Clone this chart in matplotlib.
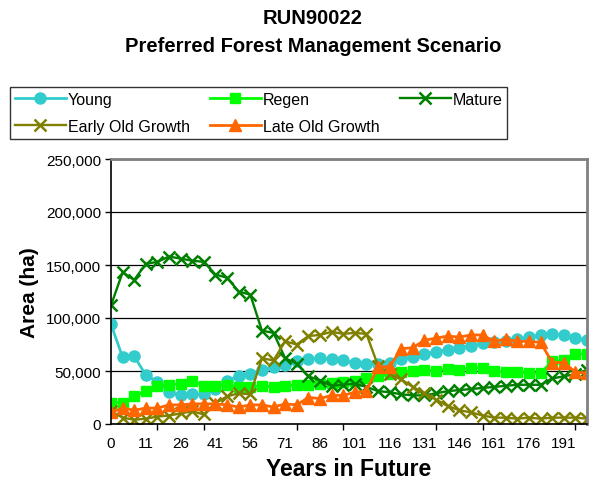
import matplotlib.pyplot as plt
from matplotlib.ticker import FuncFormatter

plt.rcParams['font.family'] = ['Liberation Sans', 'DejaVu Sans']

# categories (years in future)
years = [0, 1, 6, 11, 16, 21, 26, 31, 36, 41, 46, 51, 56, 61, 66, 71, 76, 81, 86, 91, 96,
         101, 106, 111, 116, 121, 126, 131, 136, 141, 146, 151, 156, 161, 166, 171, 176,
         181, 186, 191, 196, 201]

# area (ha)
young = [94000, 63000, 64000, 46000, 40000, 30000, 27000, 28000, 28000, 33000, 41000,
         45000, 47000, 51000, 54000, 56000, 59000, 61000, 62000, 61000, 60000, 58000,
         57000, 57000, 58000, 61000, 63000, 66000, 68000, 70000, 72000, 74000, 76000,
         77000, 78000, 80000, 82000, 84000, 85000, 84000, 81000, 79000]
regen = [20000, 20000, 26000, 31000, 36000, 37000, 38000, 41000, 36000, 36000, 37000,
         35000, 35000, 36000, 35000, 36000, 37000, 37000, 38000, 39000, 40000, 41000,
         43000, 45000, 47000, 49000, 50000, 51000, 50000, 52000, 51000, 53000, 53000,
         50000, 49000, 49000, 48000, 48000, 59000, 60000, 66000, 66000]
mature = [112000, 143000, 136000, 151000, 153000, 158000, 156000, 154000, 153000, 141000,
          138000, 125000, 122000, 88000, 86000, 62000, 57000, 45000, 41000, 36000, 37000,
          38000, 35000, 31000, 30000, 28000, 27000, 27000, 29000, 31000, 32000, 33000,
          34000, 35000, 36000, 37000, 37000, 37000, 43000, 45000, 47000, 51000]
early_og = [12000, 6000, 4000, 5000, 7000, 8000, 10000, 12000, 9000, 20000, 26000, 29000,
            28000, 62000, 60000, 78000, 75000, 83000, 84000, 87000, 85000, 86000, 85000,
            55000, 47000, 42000, 35000, 29000, 23000, 17000, 13000, 11000, 8000, 6000,
            6000, 5000, 6000, 5000, 6000, 6000, 6000, 5000]
late_og = [11000, 15000, 13000, 15000, 15000, 18000, 18000, 19000, 19000, 19000, 18000,
           16000, 18000, 18000, 16000, 19000, 18000, 25000, 24000, 27000, 27000, 30000,
           31000, 54000, 54000, 71000, 72000, 79000, 81000, 83000, 82000, 84000, 84000,
           78000, 80000, 78000, 78000, 77000, 58000, 58000, 49000, 48000]

fig = plt.figure(figsize=(5.9, 4.85), dpi=100)
ax = fig.add_axes([111 / 590, 60 / 485, 476 / 590, 265 / 485])

x = list(range(len(years)))
lines = []
lines += ax.plot(x, young, color='#33CCCC', lw=2, marker='o', ms=8, label='Young')
lines += ax.plot(x, regen, color='#00FF00', lw=2, marker='s', ms=7.5, label='Regen')
lines += ax.plot(x, mature, color='#008000', lw=1.7, marker='x', ms=9, mew=1.8, label='Mature')
lines += ax.plot(x, early_og, color='#808000', lw=1.7, marker='x', ms=9, mew=1.8,
                 label='Early Old Growth')
lines += ax.plot(x, late_og, color='#FF6600', lw=2, marker='^', ms=8.5, label='Late Old Growth')

ax.set_xlim(0, len(years) - 1)
ax.set_ylim(0, 250000)
ax.set_yticks(range(0, 250001, 50000))
ax.yaxis.set_major_formatter(FuncFormatter(lambda v, p: f'{int(v):,}'))
ax.grid(axis='y', color='black', lw=0.9)
ax.set_axisbelow(True)

# labels every 3rd category, tick marks every 4th
ax.set_xticks(x[::3])
ax.set_xticklabels([str(y) for y in years[::3]])
ax.set_xticks(x[::4], minor=True)
ax.tick_params(axis='x', which='major', length=0, pad=9, labelsize=11)
ax.tick_params(axis='x', which='minor', length=4, width=1, direction='out')
ax.tick_params(axis='y', length=4, width=1, direction='out', labelsize=11, pad=3)

for side in ['left', 'bottom']:
    ax.spines[side].set_color('black')
    ax.spines[side].set_linewidth(1.2)
for side in ['top', 'right']:
    ax.spines[side].set_color('#808080')
    ax.spines[side].set_linewidth(2)

ax.set_xlabel('Years in Future', fontsize=16.5, fontweight='bold', labelpad=5)
ax.set_ylabel('Area (ha)', fontsize=15, fontweight='bold', labelpad=5)

fig.text(0.53, 1 - 19 / 485, 'RUN90022', ha='center', va='center',
         fontsize=14.5, fontweight='bold')
fig.text(0.53, 1 - 46 / 485, 'Preferred Forest Management Scenario', ha='center',
         va='center', fontsize=14.5, fontweight='bold')

# legend fills column-wise, so reorder to get Excel's row order
order = [0, 3, 1, 4, 2]
leg = fig.legend([lines[i] for i in order], [lines[i].get_label() for i in order],
                 ncol=3, loc='upper left', mode='expand',
                 bbox_to_anchor=(10 / 590, 1 - 140 / 485, 497 / 590, 52 / 485),
                 fontsize=11.5, frameon=True, fancybox=False, edgecolor='black',
                 handlelength=3.2, handletextpad=0.1, borderpad=0.3,
                 labelspacing=0.75, borderaxespad=0)
leg.get_frame().set_linewidth(1)

fig.savefig('out.png', dpi=100)
